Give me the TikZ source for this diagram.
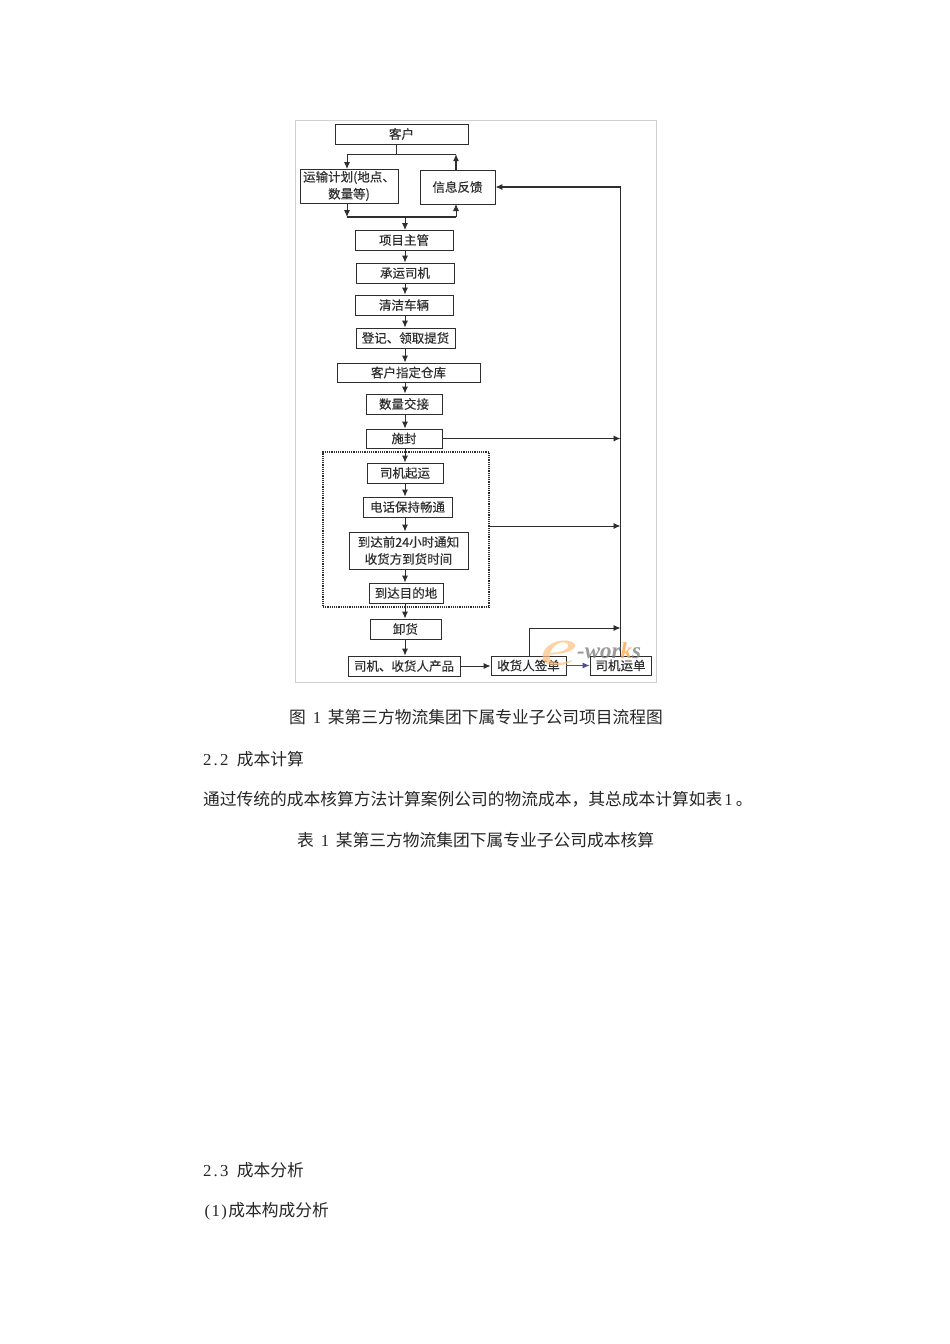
\documentclass[tikz,border=0pt]{standalone}
\usepackage{fontspec}
\setmainfont{Noto Sans CJK SC}
\newfontfamily\boxfont[FakeBold=0.25]{Noto Sans CJK SC}
\newfontfamily\latserif{Liberation Serif}
\newfontfamily\wmfont{Liberation Serif}
\newcommand{\dg}[1]{\makebox[8.4pt][c]{\latserif #1}}
\newcommand{\gapsp}{\hspace{8.4pt}}
\newcommand{\capgap}{\hspace{6.8pt}}
\usetikzlibrary{arrows.meta,calc}
\definecolor{ink}{gray}{0.18}
\tikzset{
  x=1pt,y=-1pt,
  conn/.style={draw=ink,line width=0.9pt},
  arr/.style={conn,-{Latex[length=7pt,width=6pt]}},
  flowbox/.style={draw=ink,line width=0.9pt,inner sep=0pt,text=ink,align=center,
    font=\boxfont\fontsize{12.5}{17}\selectfont},
  bodytext/.style={anchor=west,inner sep=0pt,text=black!85,font=\fontsize{16.75}{20}\selectfont},
}
\newcommand{\boxat}[6]{% name, x1, y1, x2, y2, text
  \node[flowbox,minimum width=#4pt-#2pt,minimum height=#5pt-#3pt] (#1) at ({(#2+#4)/2},{(#3+#5)/2}) {#6};
}
\begin{document}
\begin{tikzpicture}
\useasboundingbox (0,0) rectangle (950,1344);
\fill[white] (0,0) rectangle (950,1344);
\node[draw=black!18,line width=0.6pt,minimum width=361pt,minimum height=562pt,inner sep=0pt] (frame) at (475.5,401) {};

\boxat{kh}{335}{124}{468}{144}{客户}
\boxat{plan}{300}{169}{398}{203}{运输计划(地点、\\数量等)}
\boxat{fb}{420}{170}{495}{204}{信息反馈}
\boxat{pm}{355}{230}{453}{250}{项目主管}
\boxat{dr}{356}{263}{454}{283}{承运司机}
\boxat{cl}{355}{295}{453}{315}{清洁车辆}
\boxat{dj}{356}{328}{455}{348}{登记、领取提货}
\boxat{ck}{337}{363}{480}{382}{客户指定仓库}
\boxat{sl}{366}{394}{442}{414}{数量交接}
\boxat{sf}{366}{429}{442}{448}{施封}
\node[draw=ink,line width=1.2pt,densely dotted,minimum width=166pt,minimum height=155pt,inner sep=0pt] (grp) at (406,529.5) {};
\boxat{qy}{367}{463}{443}{483}{司机起运}
\boxat{dh}{363}{497}{452}{517}{电话保持畅通}
\boxat{tz}{349}{532}{468}{569}{到达前24小时通知\\收货方到货时间}
\boxat{md}{369}{583}{443}{603}{到达目的地}
\boxat{xh}{370}{619}{441}{639}{卸货}
\boxat{cp}{348}{656}{460}{676}{司机、收货人产品}
\boxat{qd}{491}{656}{566}{675}{收货人签单}
\boxat{yd}{590}{656}{651}{675}{司机运单}

% top fork
\coordinate (kexit) at (396,144);
\coordinate (forkT) at (396,154);
\coordinate (planT) at (347,169);
\coordinate (fbT) at (456,170);
\coordinate (planB) at (347,203);
\coordinate (fbB) at (456,204);
\coordinate (forkB) at (405,217);
\coordinate (pmT) at (405,230);
\draw[conn] (kexit) -- (forkT);
\draw[arr] (forkT) -| (planT);
\draw[conn] (forkT) -- (forkT -| fbT);
\draw[arr,line width=1.3pt] (fbT) -- (forkT -| fbT);
\draw[arr] (planB) -- (forkB -| planB);
\draw[conn,line width=1.2pt] (forkB -| planB) -- (forkB -| fbB);
\draw[arr] (forkB -| fbB) -- (fbB);
\draw[arr] (forkB) -- (pmT);

% main chain
\coordinate (ax) at (405,0);
\draw[arr] (pm.south -| ax) -- (dr.north -| ax);
\draw[arr] (dr.south -| ax) -- (cl.north -| ax);
\draw[arr] (cl.south -| ax) -- (dj.north -| ax);
\draw[arr] (dj.south -| ax) -- (ck.north -| ax);
\draw[arr] (ck.south -| ax) -- (sl.north -| ax);
\draw[arr] (sl.south -| ax) -- (sf.north -| ax);
\draw[arr] (sf.south -| ax) -- (qy.north -| ax);
\draw[arr] (qy.south -| ax) -- (dh.north -| ax);
\draw[arr] (dh.south -| ax) -- (tz.north -| ax);
\draw[arr] (tz.south -| ax) -- (md.north -| ax);
\draw[arr] (md.south -| ax) -- (xh.north -| ax);
\draw[arr] (xh.south -| ax) -- (cp.north -| ax);
\draw[arr] (cp.east) -- (cp.east -| qd.west);
\draw[arr,draw=blue!45!black!70] (qd.east) -- (yd.west);

% feedback rail
\draw[arr,line width=1.1pt] (yd.north) |- (fb.east);
\draw[arr] (sf.east) -- (sf.east -| yd.north);
\coordinate (grpR) at ($(grp.east)+(0,-3.5)$);
\draw[arr] (grpR) -- (grpR -| yd.north);
\coordinate (qdT) at (529,656);
\coordinate (qdR) at (529,628);
\draw[arr] (qdT) -- (qdR) -- (qdR -| yd.north);

% watermark
\node[inner sep=0pt,opacity=.7,text=orange!50!white,font=\wmfont\itshape\fontsize{52}{52}\selectfont] (wme) at (559,653) {\scalebox{1.6}[1]{e}};
\node[inner sep=0pt,opacity=.8,text=black!50,font=\wmfont\bfseries\itshape\fontsize{23}{23}\selectfont,anchor=west] (wmt) at (577,651) {-wor\textcolor{orange!70!white}{k}s};

% page text
\node[bodytext] (t1) at (289,717) {图\capgap\dg{1}\capgap 某第三方物流集团下属专业子公司项目流程图};
\node[bodytext] (t2) at (203,759) {\dg{2}\dg{.}\dg{2}\gapsp 成本计算};
\node[bodytext] (t3) at (203,799) {通过传统的成本核算方法计算案例公司的物流成本，其总成本计算如表\hspace{2pt}\dg{1}\hspace{3pt}。};
\node[bodytext] (t4) at (297,840) {表\capgap\dg{1}\capgap 某第三方物流集团下属专业子公司成本核算};
\node[bodytext] (t5) at (203,1170) {\dg{2}\dg{.}\dg{3}\gapsp 成本分析};
\node[bodytext] (t6) at (203,1211) {\dg{(}\dg{1}\dg{)}成本构成分析};
\end{tikzpicture}
\end{document}
